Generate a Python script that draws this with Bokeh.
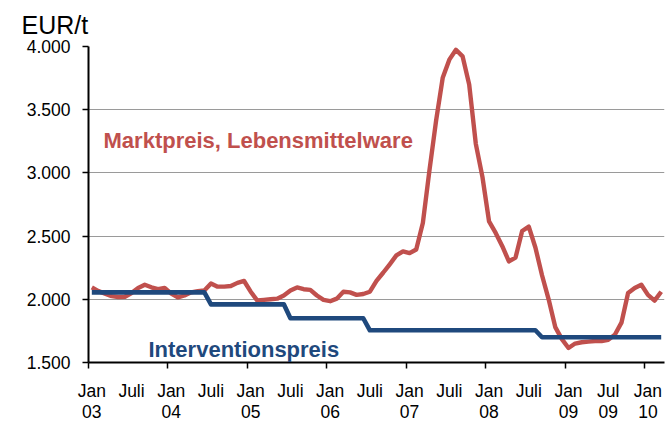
from bokeh.plotting import figure
from bokeh.models import FixedTicker, Label, Range1d
from bokeh.embed import file_html
from bokeh.resources import INLINE

# monthly data, Jan 2003 .. Mar 2010
market = [2095, 2065, 2045, 2025, 2018, 2020, 2050, 2090, 2115, 2095,
          2080, 2090, 2045, 2015, 2030, 2055, 2065, 2070, 2125, 2100,
          2100, 2105, 2130, 2145, 2060, 1990, 1995, 2000, 2005, 2030,
          2070, 2094, 2080, 2075, 2030, 1995, 1985, 2005, 2060, 2055,
          2035, 2042, 2060, 2146, 2210, 2277, 2347, 2379, 2365, 2394,
          2603, 3021, 3413, 3752, 3896, 3974, 3922, 3700, 3230, 2969,
          2616, 2525, 2420, 2300, 2330, 2540, 2575, 2410, 2190, 2000,
          1780, 1685, 1615, 1650, 1660, 1665, 1670, 1670, 1680, 1720,
          1815, 2050, 2090, 2115, 2035, 1990, 2060]
intervention = [2055] * 18 + [1960] * 12 + [1850] * 12 + [1755] * 26 + [1700] * 19
months = list(range(len(market)))

x_label_pos = [0, 6, 12, 18, 24, 30, 36, 42, 48, 54, 60, 66, 72, 78, 84]
x_labels = ["Jan\n03", "Juli", "Jan\n04", "Juli", "Jan\n05", "Juli", "Jan\n06", "Juli",
            "Jan\n07", "Juli", "Jan\n08", "Juli", "Jan\n09", "Jul\n09", "Jan\n10"]
year_bounds = [-0.5, 11.5, 23.5, 35.5, 47.5, 59.5, 71.5, 83.5]
y_ticks = [1500, 2000, 2500, 3000, 3500, 4000]
y_labels = ["1.500", "2.000", "2.500", "3.000", "3.500", "4.000"]
unit_label = "EUR/t"

RED = "#C0504D"
BLUE = "#1F497D"
FONT = "Liberation Sans"

p = figure(width=670, height=424, output_backend="svg", toolbar_location=None,
           x_range=Range1d(-0.5, len(market) - 0.5), y_range=Range1d(1500, 4000),
           min_border_left=88, min_border_right=6, min_border_top=46, min_border_bottom=59,
           title=unit_label)
p.outline_line_color = None
p.background_fill_color = "white"
p.border_fill_color = "white"

p.title.text_font = FONT
p.title.text_font_size = "25px"
p.title.text_font_style = "normal"
p.title.text_color = "black"
p.title.align = "left"
p.title.offset = -67
p.title.standoff = 16

# x axis
xa = p.xaxis[0]
xa.ticker = FixedTicker(ticks=x_label_pos, minor_ticks=year_bounds)
xa.major_label_overrides = {k: v for k, v in zip(x_label_pos, x_labels)}
xa.major_tick_out = 0
xa.major_tick_in = 0
xa.minor_tick_out = 6
xa.minor_tick_in = 0
xa.minor_tick_line_color = "black"
xa.minor_tick_line_width = 1.5
xa.axis_line_color = "black"
xa.axis_line_width = 2
xa.major_label_text_font = FONT
xa.major_label_text_font_size = "17.5px"
xa.major_label_text_color = "black"
xa.major_label_text_line_height = 1.05
xa.major_label_standoff = 12

# y axis
ya = p.yaxis[0]
ya.ticker = FixedTicker(ticks=y_ticks)
ya.major_label_overrides = {k: v for k, v in zip(y_ticks, y_labels)}
ya.major_tick_out = 6
ya.major_tick_in = 0
ya.minor_tick_out = 0
ya.minor_tick_in = 0
ya.major_tick_line_width = 1.5
ya.axis_line_color = "black"
ya.axis_line_width = 2
ya.major_label_text_font = FONT
ya.major_label_text_font_size = "17.5px"
ya.major_label_text_color = "black"
ya.major_label_standoff = 12

p.xgrid.visible = False
p.ygrid.grid_line_color = "#9a9a9a"
p.ygrid.grid_line_width = 1

p.line(months, market, line_color=RED, line_width=4.4, line_join="round")
p.line(months, intervention, line_color=BLUE, line_width=4.6, line_join="round")

p.add_layout(Label(x=1.77, y=3260, text="Marktpreis, Lebensmittelware",
                   text_font=FONT, text_font_size="22px", text_font_style="bold",
                   text_color=RED, text_baseline="alphabetic"))
p.add_layout(Label(x=8.56, y=1600, text="Interventionspreis",
                   text_font=FONT, text_font_size="22px", text_font_style="bold",
                   text_color=BLUE, text_baseline="alphabetic"))

open("out.html", "w").write(file_html(p, INLINE))
